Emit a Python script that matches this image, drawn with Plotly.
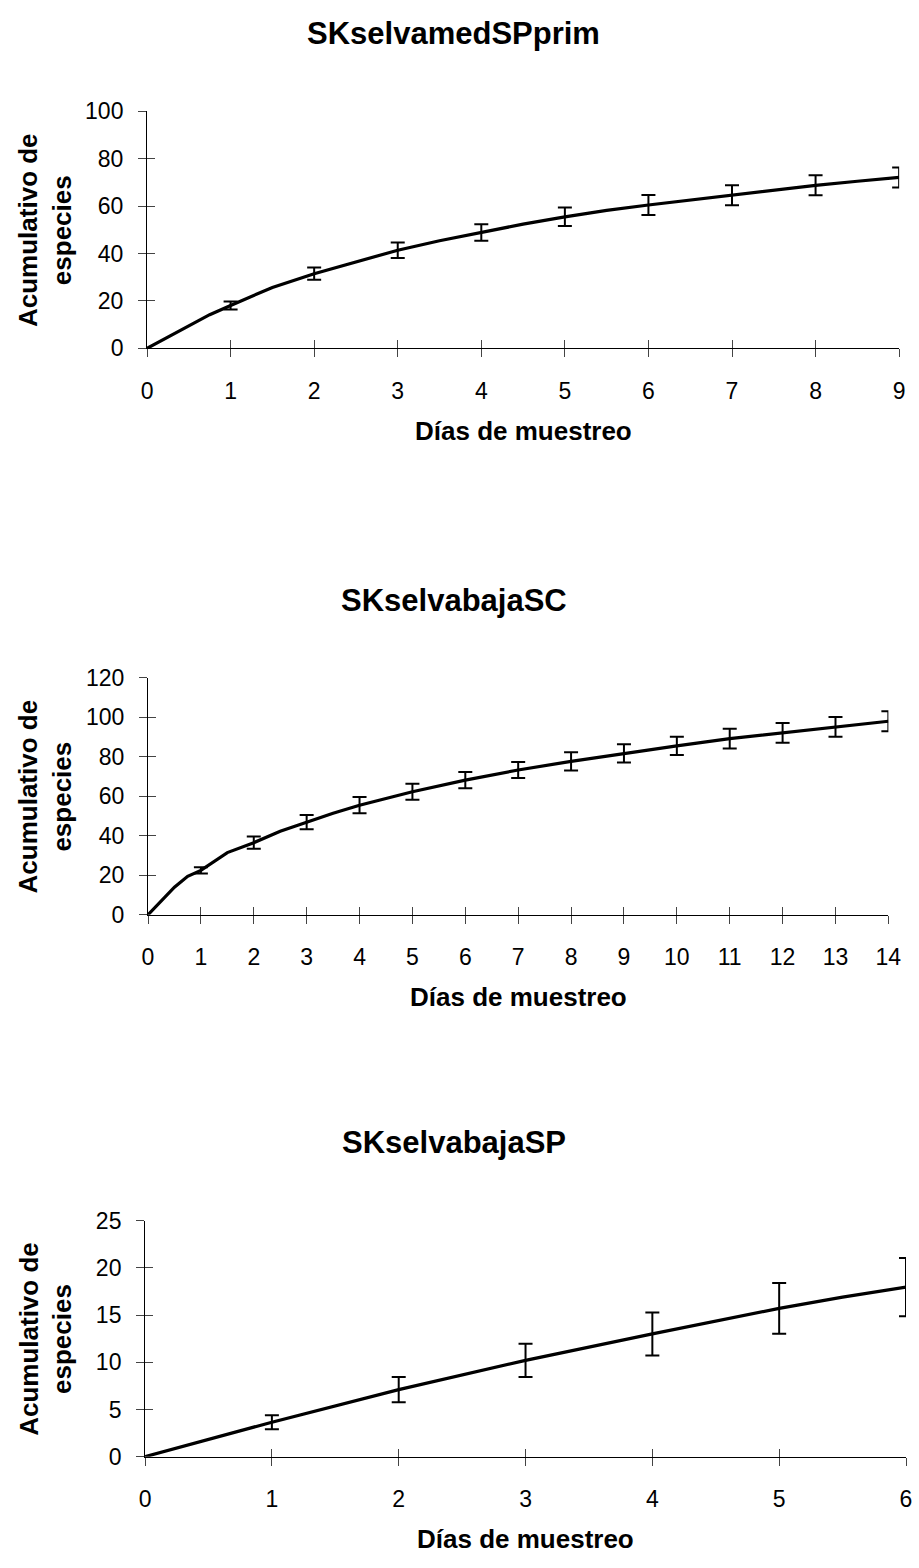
import plotly.graph_objects as go

W, H = 919, 1568
FONT = "Liberation Sans, Arial, sans-serif"

# ---------------- data ----------------
titles = ["SKselvamedSPprim", "SKselvabajaSC", "SKselvabajaSP"]
x_title = "Días de muestreo"
y_title = "Acumulativo de<br>especies"

# Chart 1
c1_line_x = [0, 0.5, 0.75, 1, 1.5, 2, 2.5, 3, 3.5, 4, 4.5, 5, 5.5, 6, 6.5, 7, 7.5, 8, 8.5, 9]
c1_line_y = [0, 9.4, 14.2, 18.1, 25.7, 31.5, 36.6, 41.4, 45.4, 48.9, 52.4, 55.5, 58.2, 60.5, 62.6, 64.6, 67.0, 68.8, 70.5, 72.1]
c1_err_x = [1, 2, 3, 4, 5, 6, 7, 8, 9]
c1_err_y = [18.1, 31.5, 41.4, 48.9, 55.5, 60.5, 64.6, 68.8, 72.1]
c1_err = [1.7, 2.6, 3.3, 3.5, 3.9, 4.2, 4.2, 4.2, 4.2]
c1_xticks = list(range(0, 10))
c1_yticks = [0, 20, 40, 60, 80, 100]

# Chart 2
c2_line_x = [0, 0.5, 0.75, 1, 1.5, 2, 2.5, 3, 3.5, 4, 5, 6, 7, 8, 9, 10, 11, 12, 13, 14]
c2_line_y = [0, 14.0, 19.5, 22.5, 31.5, 36.5, 42.3, 46.9, 51.4, 55.5, 62.3, 68.2, 73.3, 77.7, 81.7, 85.5, 89.2, 92.1, 95.1, 98.0]
c2_err_x = list(range(1, 15))
c2_err_y = [22.5, 36.5, 46.9, 55.5, 62.3, 68.2, 73.3, 77.7, 81.7, 85.5, 89.2, 92.1, 95.1, 98.0]
c2_err = [1.6, 3.1, 3.6, 4.1, 4.1, 4.1, 4.1, 4.6, 4.6, 4.6, 5.0, 5.0, 5.0, 5.1]
c2_xticks = list(range(0, 15))
c2_yticks = [0, 20, 40, 60, 80, 100, 120]

# Chart 3
c3_line_x = [0, 1, 2, 3, 4, 5, 5.5, 6]
c3_line_y = [0, 3.65, 7.1, 10.2, 13.0, 15.7, 16.9, 17.95]
c3_err_x = [1, 2, 3, 4, 5, 6]
c3_err_y = [3.65, 7.1, 10.2, 13.0, 15.7, 17.95]
c3_err = [0.74, 1.34, 1.76, 2.28, 2.69, 3.09]
c3_xticks = list(range(0, 7))
c3_yticks = [0, 5, 10, 15, 20, 25]

# ---------------- layout geometry (pixels) ----------------
panels = [
    dict(left=144, right=912, top=100, bottom=341, xr=[0, 9], yr=[0, 100],
         title_y=21, xt_y=425, yt_x=40, xt_x=528),
    dict(left=145, right=901, top=676, bottom=917, xr=[0, 14], yr=[0, 120],
         title_y=597, xt_y=1001, yt_x=40, xt_x=523),
    dict(left=142, right=919, top=1228, bottom=1468, xr=[0, 6], yr=[0, 25],
         title_y=1149, xt_y=1552, yt_x=40, xt_x=530),
]
data = [
    (c1_line_x, c1_line_y, c1_err_x, c1_err_y, c1_err, c1_xticks, c1_yticks),
    (c2_line_x, c2_line_y, c2_err_x, c2_err_y, c2_err, c2_xticks, c2_yticks),
    (c3_line_x, c3_line_y, c3_err_x, c3_err_y, c3_err, c3_xticks, c3_yticks),
]

fig = go.Figure()
layout = dict(width=W, height=H, autosize=False, margin=dict(l=0, r=0, t=0, b=0),
              paper_bgcolor="white", plot_bgcolor="white", showlegend=False,
              font=dict(family=FONT, color="black"))
annotations = []


def px(x):
    return x / W


def py(y):
    return 1 - y / H


for i, (p, d) in enumerate(zip(panels, data)):
    lx, ly, ex, ey, ee, xt, yt = d
    n = i + 1
    xa = f"x{n}" if n > 1 else "x"
    ya = f"y{n}" if n > 1 else "y"
    xo, yo = f"x{n + 3}", f"y{n + 3}"
    xdom = [px(p["left"]), min(1, px(p["right"]))]
    ydom = [py(p["bottom"]), py(p["top"])]
    common = dict(showgrid=False, zeroline=False, tickfont=dict(size=23, family=FONT, color="black"),
                  tickcolor="#444", tickwidth=1, ticklen=8)
    layout[f"xaxis{n if n > 1 else ''}"] = dict(
        domain=xdom, range=p["xr"], anchor=ya, tickvals=xt, ticks="outside",
        showline=True, linecolor="black", linewidth=1, ticklabelstandoff=14, **common)
    layout[f"yaxis{n if n > 1 else ''}"] = dict(
        domain=ydom, range=p["yr"], anchor=xa, tickvals=yt, ticks="outside",
        showline=True, linecolor="black", linewidth=1, ticklabelstandoff=10, **common)
    # overlay axes so that the tick marks cross the axis line
    layout[f"xaxis{n + 3}"] = dict(domain=xdom, range=p["xr"], anchor=yo, overlaying=xa,
                                   tickvals=xt, ticks="inside", showticklabels=False,
                                   showline=False, **common)
    layout[f"yaxis{n + 3}"] = dict(domain=ydom, range=p["yr"], anchor=xo, overlaying=ya,
                                   tickvals=yt, ticks="inside", showticklabels=False,
                                   showline=False, **common)
    fig.add_trace(go.Scatter(x=[None], y=[None], xaxis=xo, yaxis=yo, mode="lines",
                             hoverinfo="skip", showlegend=False))
    fig.add_trace(go.Scatter(x=lx, y=ly, xaxis=xa, yaxis=ya, mode="lines",
                             line=dict(color="black", width=3.2), hoverinfo="skip"))
    fig.add_trace(go.Scatter(x=ex, y=ey, xaxis=xa, yaxis=ya, mode="markers",
                             marker=dict(size=1, color="rgba(0,0,0,0)"),
                             error_y=dict(type="data", array=ee, visible=True,
                                          color="black", thickness=2, width=7),
                             cliponaxis=False, hoverinfo="skip"))
    annotations.append(dict(text=f"<b>{titles[i]}</b>", x=px(457), y=py(p["title_y"]),
                            xref="paper", yref="paper", showarrow=False,
                            xanchor="center", yanchor="middle",
                            font=dict(size=31, family=FONT, color="black")))
    annotations.append(dict(text=f"<b>{x_title}</b>", x=px(p["xt_x"]),
                            y=py(p["xt_y"]), xref="paper", yref="paper", showarrow=False,
                            xanchor="center", yanchor="middle",
                            font=dict(size=26, family=FONT, color="black")))
    annotations.append(dict(text=f"<b>{y_title}</b>", x=px(p["yt_x"]),
                            y=py((p["top"] + p["bottom"]) / 2), xref="paper", yref="paper",
                            showarrow=False, textangle=-90, xanchor="center", yanchor="middle",
                            font=dict(size=26, family=FONT, color="black")))

layout["annotations"] = annotations
fig.update_layout(**layout)
fig.write_html("out.html")
